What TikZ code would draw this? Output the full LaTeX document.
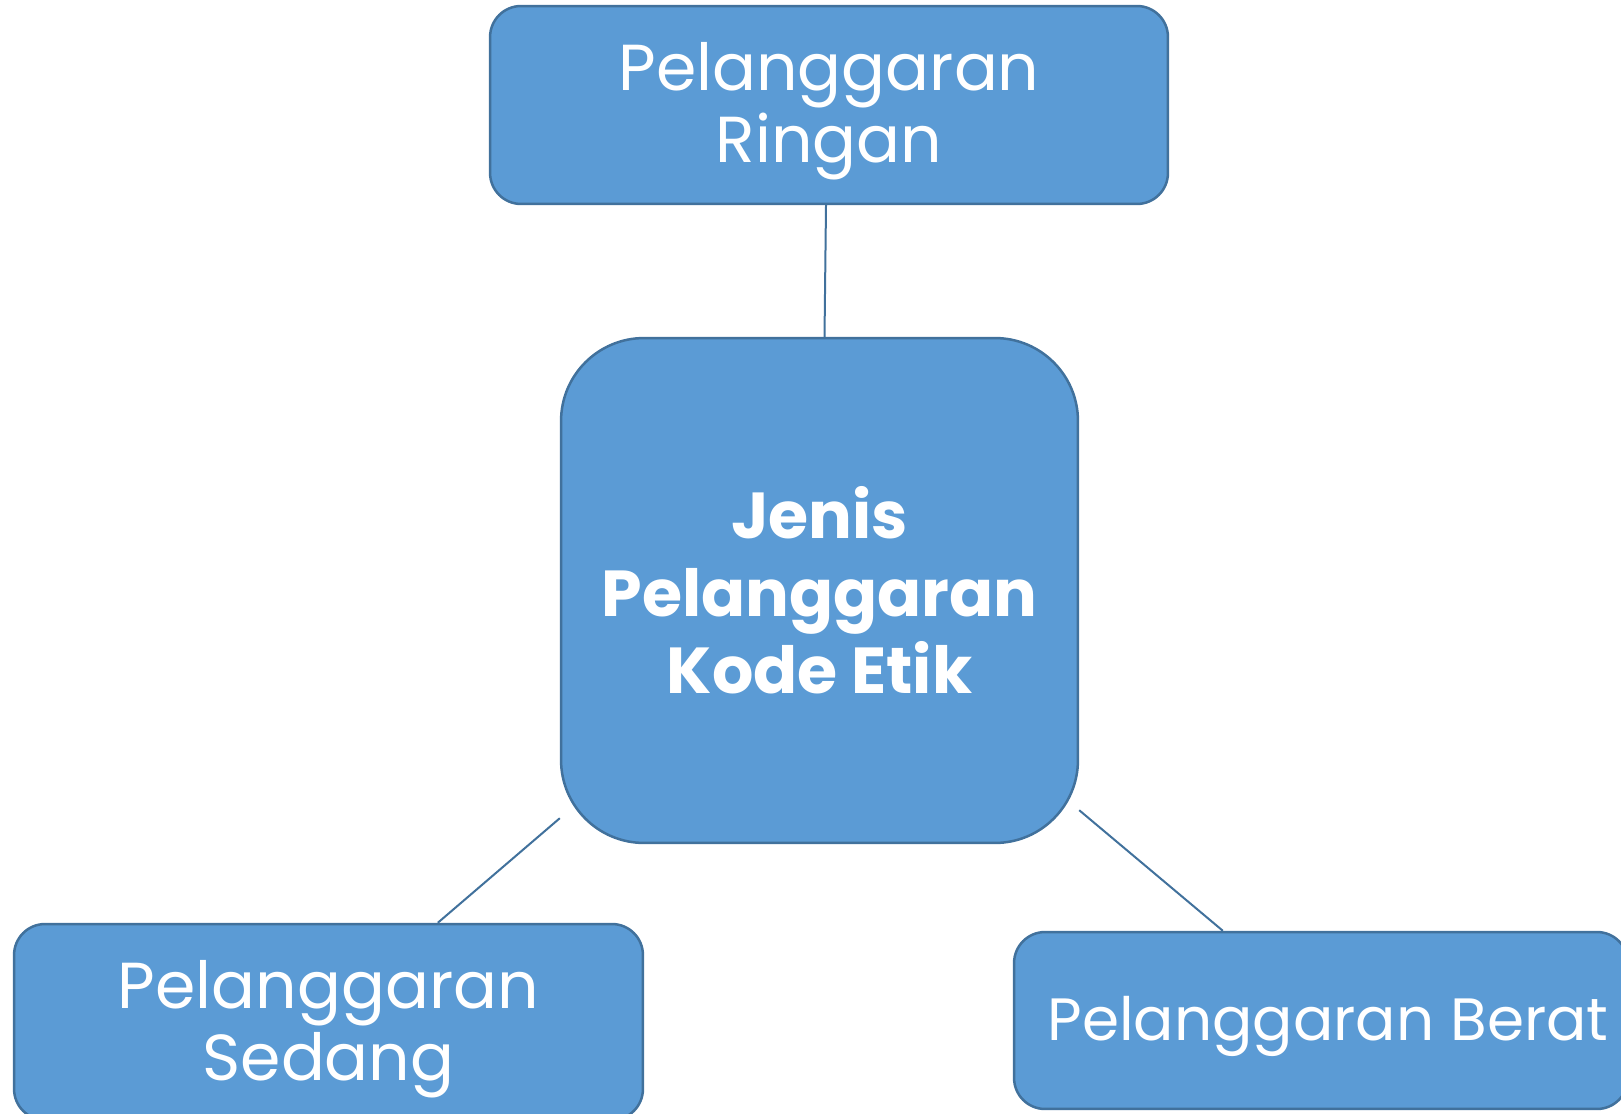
\documentclass[tikz,border=0pt]{standalone}
\usepackage{fontspec}
\setmainfont{Poppins}
\usepackage{xcolor}
\usepackage{tikz}
\usetikzlibrary{shapes,calc,positioning}

\definecolor{boxfill}{HTML}{5B9BD5}
\definecolor{boxline}{HTML}{41719C}

\begin{document}
\begin{tikzpicture}[
        x=0.02cm, y=-0.02cm,
        jenisbox/.style={
            draw=boxline,
            line width=0.05cm,
            fill=boxfill,
            inner sep=0pt
        },
        teks/.style={
            text=white,
            align=center,
            inner sep=0pt
        },
        penghubung/.style={
            draw=boxline,
            line width=0.04cm
        }
    ]
                \useasboundingbox (0,0) rectangle (1621,1114);

                \node[
                    jenisbox,
                    rounded corners=0.62cm,
                    minimum width=13.56cm,
                    minimum height=3.96cm,
                    label={[teks, yshift=-0.13cm, font=\fontsize{37}{41}\selectfont]center:Pelanggaran\\Ringan}
                ] (ringan) at (829,105) {};

                \node[
                    jenisbox,
                    rounded corners=1.66cm,
                    minimum width=10.34cm,
                    minimum height=10.1cm,
                    label={[teks, font=\fontsize{37}{44}\selectfont\bfseries]center:Jenis\\Pelanggaran\\Kode Etik}
                ] (jenis) at (819.5,590.5) {};

                \node[
                    jenisbox,
                    rounded corners=0.62cm,
                    minimum width=12.58cm,
                    minimum height=3.92cm,
                    label={[teks, yshift=-0.14cm, font=\fontsize{37}{41}\selectfont]center:Pelanggaran\\Sedang}
                ] (sedang) at (328.5,1022) {};

                \node[
                    jenisbox,
                    rounded corners=0.62cm,
                    minimum width=12.28cm,
                    minimum height=3.54cm,
                    label={[teks, xshift=0.14cm, yshift=-0.12cm, font=\fontsize{34}{41}\selectfont]center:Pelanggaran Berat}
                ] (berat) at (1321,1020.5) {};

                \draw[penghubung] ($(ringan.south)+(-3,0)$) -- ($(jenis.north)+(5,0)$);
                \draw[penghubung] ($(jenis.south west)+(0,-26)$) -- ($(sedang.north west)+(425,0)$);
                \draw[penghubung] ($(jenis.south east)+(0,-34)$) -- ($(berat.north west)+(210,0)$);

\end{tikzpicture}
\end{document}
